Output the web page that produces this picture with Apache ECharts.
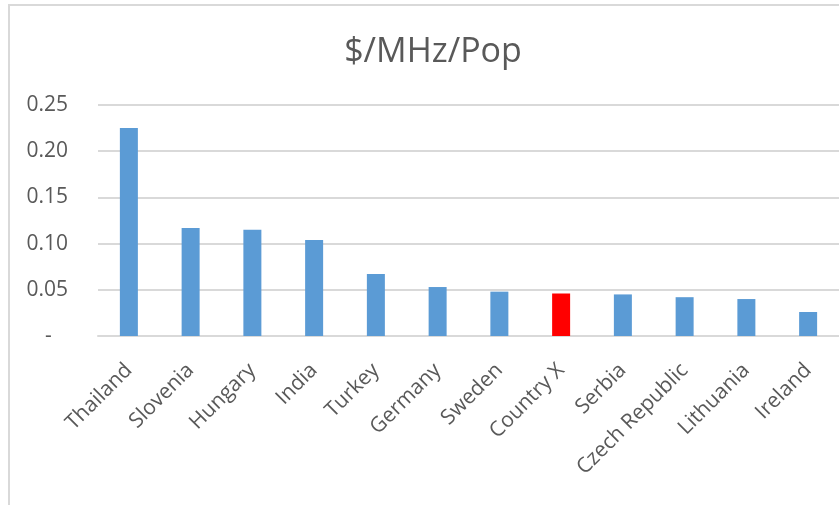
<!DOCTYPE html>
<html>
<head>
<meta charset="utf-8">
<script src="https://cdn.jsdelivr.net/npm/echarts@6/dist/echarts.min.js"></script>
<style>
  html, body { margin: 0; padding: 0; background: #fff; }
  #chart { width: 839px; height: 505px; }
</style>
</head>
<body>
<div id="chart"></div>
<script>
// data
const countries = ['Thailand', 'Slovenia', 'Hungary', 'India', 'Turkey', 'Germany',
  'Sweden', 'Country X', 'Serbia', 'Czech Republic', 'Lithuania', 'Ireland']
const pricePerMhzPop = [0.225, 0.117, 0.115, 0.104, 0.067, 0.053,
  0.048, 0.046, 0.045, 0.042, 0.040, 0.026]
const highlight = 'Country X'
const yTicks = [0, 0.05, 0.10, 0.15, 0.20, 0.25]

const blue = '#5B9BD5'
const red = '#FF0000'
const textColor = '#595959'
const font = 'Open Sans'

let myChart = echarts.init(document.getElementById('chart'))

const option = {
  animation: false,
  graphic: [{
    type: 'rect',
    shape: { x: 9, y: 5, width: 860, height: 540 },
    style: { fill: 'none', stroke: '#d9d9d9', lineWidth: 2 }
  }],
  title: {
    text: '$/MHz/Pop',
    left: 428,
    top: 30,
    textAlign: 'center',
    textStyle: { color: textColor, fontSize: 34, fontWeight: 'normal', fontFamily: font }
  },
  grid: { left: 98, width: 742, top: 105, height: 231, containLabel: false },
  xAxis: {
    type: 'category',
    data: countries,
    axisLine: { lineStyle: { color: '#d9d9d9', width: 2 } },
    axisTick: { show: false },
    axisLabel: {
      rotate: 45,
      margin: 31,
      interval: 0,
      color: textColor,
      fontSize: 21,
      fontFamily: font
    }
  },
  yAxis: {
    type: 'value',
    min: yTicks[0],
    max: yTicks[yTicks.length - 1],
    interval: 0.05,
    axisLine: { show: false },
    axisTick: { show: false },
    splitLine: { lineStyle: { color: '#d9d9d9', width: 2 } },
    axisLabel: {
      margin: 30,
      color: textColor,
      fontSize: 21,
      fontFamily: font,
      formatter: v => v === 0 ? '-   ' : v.toFixed(2)
    }
  },
  series: [{
    type: 'bar',
    barWidth: 18,
    data: pricePerMhzPop.map((v, i) => ({
      value: v,
      itemStyle: { color: countries[i] === highlight ? red : blue }
    }))
  }]
}

myChart.setOption(option)
</script>
</body>
</html>
